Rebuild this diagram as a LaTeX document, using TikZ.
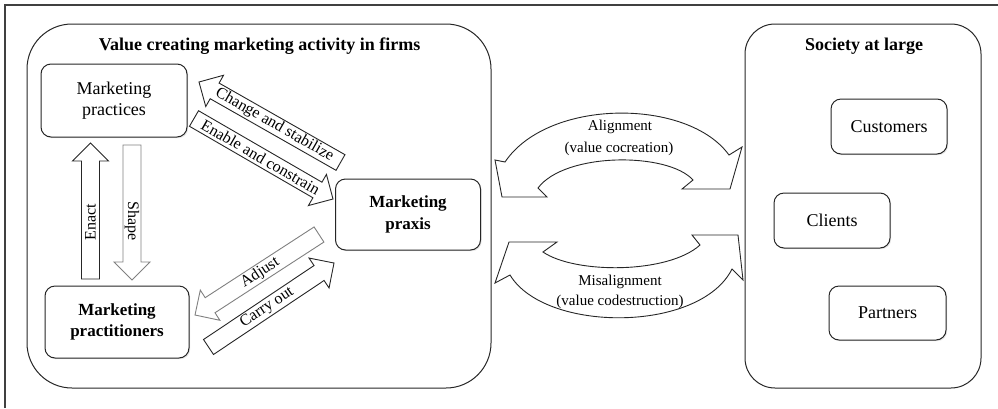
\documentclass[tikz,border=0pt]{standalone}
\usepackage{fontspec}
\setmainfont{Liberation Serif}
\usetikzlibrary{calc,shadows}
\newcommand\blockarrow[6]{%
  \coordinate (#1-t) at #2;
  \coordinate (#1-h) at #3;
  \coordinate (#1-b) at ($(#1-h)!18pt!(#1-t)$);
  \draw[#4] ($(#1-t)!9pt!90:(#1-h)$) -- ($(#1-b)!9pt!90:(#1-h)$) -- ($(#1-b)!18pt!90:(#1-h)$) -- (#1-h) -- ($(#1-b)!18pt!-90:(#1-h)$) -- ($(#1-b)!9pt!-90:(#1-h)$) -- ($(#1-t)!9pt!-90:(#1-h)$) -- cycle;
  \path (#1-t) -- (#1-b) node[alab, sloped, pos=#6] (#1-lab) {#5};
}
\begin{document}
\begin{tikzpicture}[x=1pt,y=-1pt,
  box/.style={draw=black!85, line width=1pt, rounded corners=10pt, fill=white, align=center, inner sep=0pt, font=\fontsize{18}{21.5}\selectfont, drop shadow={opacity=0.2, shadow xshift=1.2pt, shadow yshift=-1.2pt}},
  boldbox/.style={box, font=\fontsize{17}{21.5}\selectfont\bfseries},
  bigbox/.style={draw=black!85, line width=1pt},
  title/.style={font=\fontsize{18}{21}\selectfont\bfseries, inner sep=0pt},
  blk/.style={draw=black!85, line width=0.9pt, fill=white, line join=miter},
  blkgray/.style={blk, draw=black!50},
  alab/.style={font=\fontsize{16}{18}\selectfont, inner sep=0pt},
  clab/.style={font=\fontsize{15}{18}\selectfont, inner sep=0pt},
]
\useasboundingbox (0,0) rectangle (998,408);
\draw[line width=1.5pt, black!75] (5,408) -- (5,5) -- (998,5);

% containers
\node[bigbox, rounded corners=45pt, minimum width=464pt, minimum height=364pt] (firm) at (259,206) {};
\node[bigbox, rounded corners=30pt, minimum width=236pt, minimum height=364pt] (soc) at (863,206) {};
\node[title] (firmtitle) at (259.5,46) {Value creating marketing activity in firms};
\node[title] (soctitle) at (864,46) {Society at large};

% boxes
\node[box, minimum width=146pt, minimum height=73pt] (practices) at (114,100.5) {Marketing\\practices};
\node[boldbox, minimum width=144pt, minimum height=72pt] (practitioners) at (117,322) {Marketing\\practitioners};
\node[boldbox, minimum width=145pt, minimum height=71pt] (praxis) at (408,214.5) {Marketing\\praxis};
\node[box, minimum width=116pt, minimum height=55pt] (customers) at (889,126.5) {Customers};
\node[box, minimum width=116pt, minimum height=55pt] (clients) at (832,220.5) {Clients};
\node[box, minimum width=117pt, minimum height=54pt] (partners) at (887.5,313) {Partners};

% curved double arrows
\draw[blk] (505,162) .. controls (548,98) and (688,98) .. (729,155) -- (742,147) -- (730,189) -- (682,189) -- (693,180) .. controls (668,152) and (565,152) .. (538,188) -- (547,197) -- (502,197) -- (495,160) -- cycle;
\draw[blk] (509,242) -- (557,242) -- (543,252) .. controls (575,274) and (668,274) .. (700,245) -- (692,235) -- (738,235) -- (743,280) -- (732,269) .. controls (700,333) and (545,333) .. (510,275) -- (495,283) -- cycle;
\node[clab] (al1) at (620,127) {Alignment};
\node[clab] (al2) at (619,149) {(value cocreation)};
\node[clab] (mis1) at (620,282) {Misalignment};
\node[clab] (mis2) at (620,302) {(value codestruction)};

% block arrows
\blockarrow{enact}{(90.5,279)}{(90.5,143)}{blk}{Enact}{0.48}
\blockarrow{shape}{(132,145)}{(132,280)}{blkgray}{Shape}{0.65}
\blockarrow{change}{(340.5,162.5)}{(199,82)}{blk}{Change and stabilize}{0.525}
\blockarrow{enable}{(194,118.5)}{(333,199)}{blk}{Enable and constrain}{0.54}
\blockarrow{adjust}{(319,234.5)}{(195,315)}{blkgray}{Adjust}{0.54}
\blockarrow{carry}{(208.5,347)}{(334,263)}{blk}{Carry out}{0.53}
\end{tikzpicture}
\end{document}
